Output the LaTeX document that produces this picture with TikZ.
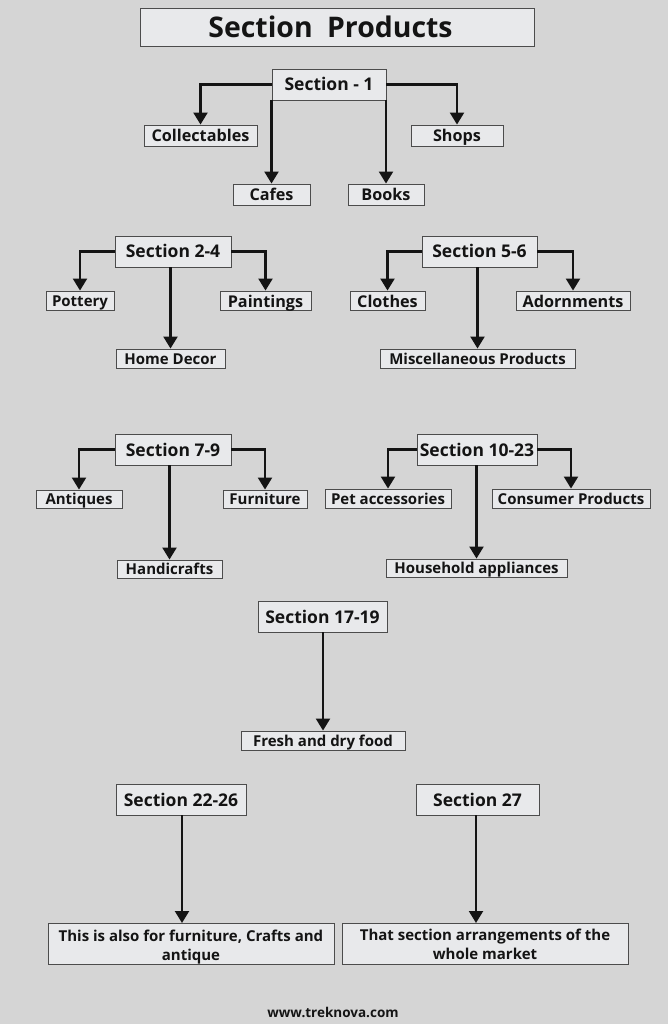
\documentclass[tikz,border=0pt]{standalone}
\usepackage{fontspec}
\setmainfont{Open Sans}
\usetikzlibrary{arrows.meta}
\definecolor{pagegrey}{HTML}{D5D5D5}
\definecolor{boxgrey}{HTML}{E8E9EB}
\definecolor{inkgrey}{HTML}{141414}
\tikzset{
    box/.style={draw=black!70,line width=0.9pt,fill=boxgrey,text=inkgrey,font=\bfseries\fontsize{15}{19}\selectfont,inner sep=0pt,align=center},
    leaf/.style={box,text height=12pt,text depth=1pt},
    bigleaf/.style={leaf,text height=13.5pt,text depth=0.5pt,font=\bfseries\fontsize{16.2}{19}\selectfont},
    head/.style={box,text height=14pt,text depth=1pt,font=\bfseries\fontsize{17.5}{21}\selectfont},
    link/.style={draw=inkgrey,line width=2.2pt,-{Triangle[width=14pt,length=12pt]}}
}
\begin{document}
\begin{tikzpicture}[x=1pt,y=-1pt]
    \fill[pagegrey] (0,0) rectangle (668,1024);
    \node[box,minimum width=394pt,minimum height=38pt,font=\bfseries\fontsize{28.4}{32}\selectfont] at (337,27) (title) {\hspace{-13pt}Section\hspace{0.25em} Products};
    % section 1
    \node[head,minimum width=114pt,minimum height=31pt] at (329,84.5) (sec1) {Section - 1};
    \node[bigleaf,minimum width=113pt,minimum height=21pt] at (200.5,135.5) (coll) {Collectables};
    \node[bigleaf,minimum width=92pt,minimum height=21pt] at (457,135.5) (shops) {Shops};
    \node[bigleaf,minimum width=77pt,minimum height=21pt] at (271.5,194.5) (cafes) {Cafes};
    \node[bigleaf,minimum width=76pt,minimum height=21pt] at (386,194.5) (books) {Books};
    \draw[link] (sec1.west) -| (coll.north);
    \draw[link] (sec1.east) -| (shops.north);
    \draw[link] (cafes.north |- sec1.south) -- (cafes.north);
    \draw[link] (books.north |- sec1.south) -- (books.north);
    % section 2-4
    \node[head,minimum width=116pt,minimum height=31pt] at (173,251.5) (sec2) {Section 2-4};
    \node[leaf,minimum width=68pt,minimum height=19pt] at (80,300.5) (pottery) {Pottery};
    \node[bigleaf,minimum width=91pt,minimum height=19pt] at (265.5,300.5) (paint) {Paintings};
    \node[leaf,minimum width=109pt,minimum height=19pt] at (170.5,358.5) (decor) {Home Decor};
    \draw[link] (sec2.west) -| (pottery.north);
    \draw[link] (sec2.east) -| (paint.north);
    \draw[link] (decor.north |- sec2.south) -- (decor.north);
    % section 5-6
    \node[head,minimum width=115pt,minimum height=31pt] at (479.5,251.5) (sec5) {Section 5-6};
    \node[bigleaf,minimum width=75pt,minimum height=19pt] at (387.5,300.5) (clothes) {Clothes};
    \node[bigleaf,minimum width=114pt,minimum height=19pt] at (573,300.5) (adorn) {Adornments};
    \node[leaf,minimum width=195pt,minimum height=19pt] at (477.5,358.5) (misc) {Miscellaneous Products};
    \draw[link] (sec5.west) -| (clothes.north);
    \draw[link] (sec5.east) -| (adorn.north);
    \draw[link] (misc.north |- sec5.south) -- (misc.north);
    % section 7-9
    \node[head,minimum width=116pt,minimum height=31pt] at (173,449.5) (sec7) {Section 7-9};
    \node[leaf,minimum width=86pt,minimum height=18pt] at (79,499) (antiq) {Antiques};
    \node[leaf,minimum width=84pt,minimum height=18pt] at (265,499) (furn) {Furniture};
    \node[leaf,minimum width=105pt,minimum height=18pt] at (169.5,569) (handi) {Handicrafts};
    \draw[link] (sec7.west) -| (antiq.north);
    \draw[link] (sec7.east) -| (furn.north);
    \draw[link] (handi.north |- sec7.south) -- (handi.north);
    % section 10-23
    \node[head,minimum width=120pt,minimum height=31pt] at (477,449.5) (sec10) {Section 10-23};
    \node[leaf,minimum width=126pt,minimum height=19pt] at (388,498.5) (pet) {Pet accessories};
    \node[leaf,minimum width=158pt,minimum height=19pt] at (571,498.5) (cons) {Consumer Products};
    \node[leaf,minimum width=181pt,minimum height=18pt] at (476.5,568) (house) {Household appliances};
    \draw[link] (sec10.west) -| (pet.north);
    \draw[link] (sec10.east) -| (cons.north);
    \draw[link] (house.north |- sec10.south) -- (house.north);
    % section 17-19
    \node[head,minimum width=129pt,minimum height=31pt] at (322.5,616.5) (sec17) {Section 17-19};
    \node[leaf,minimum width=164pt,minimum height=19pt] at (323,740.5) (fresh) {Fresh and dry food};
    \draw[link] (fresh.north |- sec17.south) -- (fresh.north);
    % section 22-26 and 27
    \node[head,minimum width=130pt,minimum height=31pt] at (181,799.5) (sec22) {Section 22-26};
    \node[head,minimum width=123pt,minimum height=31pt] at (477.5,799.5) (sec27) {Section 27};
    \node[box,minimum width=286pt,minimum height=41pt] at (191,943.5) (craft) {\rule{0pt}{18pt}This is also for furniture, Crafts and\\antique};
    \node[box,minimum width=286pt,minimum height=41pt] at (485,943.5) (whole) {\rule{0pt}{13.5pt}That section arrangements of the\\whole market};
    \coordinate (crafttop) at (182,923);
    \coordinate (wholetop) at (476,923);
    \draw[link] (crafttop |- sec22.south) -- (crafttop);
    \draw[link] (wholetop |- sec27.south) -- (wholetop);
    \node[text=inkgrey,font=\bfseries\fontsize{13.5}{16}\selectfont,inner sep=0pt] at (333,1012) (site) {www.treknova.com};
\end{tikzpicture}
\end{document}
